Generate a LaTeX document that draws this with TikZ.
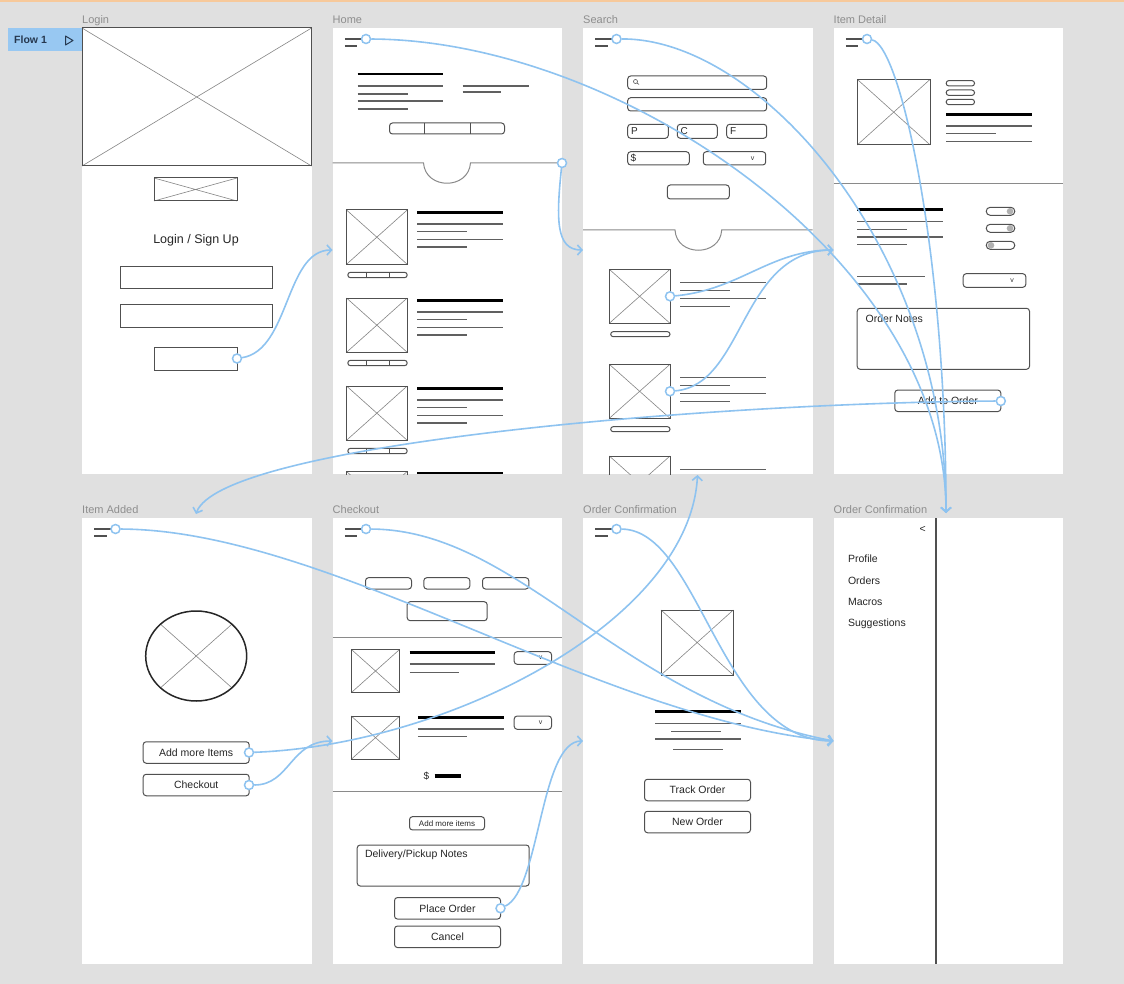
\documentclass[tikz,border=0pt]{standalone}
\usepackage{fontspec}
\setmainfont{Liberation Sans}
\usetikzlibrary{positioning, arrows.meta}

\definecolor{bggrey}{HTML}{E0E0E0}
\definecolor{topline}{HTML}{F7C99B}
\definecolor{tagblue}{HTML}{98C8F2}
\definecolor{tagtext}{HTML}{26384F}
\definecolor{flowblue}{HTML}{8EC3F0}
\definecolor{wiregrey}{HTML}{505050}
\definecolor{txtgrey}{HTML}{606060}
\definecolor{xgrey}{HTML}{858585}
\definecolor{titlegrey}{HTML}{8E8E8E}
\definecolor{sepgrey}{HTML}{8A8A8A}
\definecolor{knobgrey}{HTML}{B0B0B0}

% image placeholder with a cross
\newcommand{\phimg}[4]{\draw[xline] (#1,#2) -- (#3,#4) (#1,#4) -- (#3,#2); \draw[wire] (#1,#2) rectangle (#3,#4);}
% hamburger icon, its top bar ends in a flow start
\newcommand{\burger}[1]{\draw[wire, line width=1.3pt] (12.3,11) -- (29,11) (12.3,18) -- (24.7,18); \node[dot] (#1) at (33.5,11) {};}

\begin{document}
\begin{tikzpicture}[x=1pt, y=-1pt]
 \tikzstyle{screen} = [fill=white, minimum width=229.5pt, minimum height=446pt, inner sep=0pt, outer sep=0pt, anchor=north west]
 \tikzstyle{title} = [font=\fontsize{11}{13}\selectfont, text=titlegrey, inner sep=0pt, anchor=base west, yshift=4.5pt]
 \tikzstyle{wire} = [draw=wiregrey, line width=1pt]
 \tikzstyle{box} = [draw=wiregrey, line width=1pt, rounded corners=3pt]
 \tikzstyle{xline} = [draw=xgrey, line width=0.6pt]
 \tikzstyle{txt} = [draw=txtgrey, line width=1.2pt]
 \tikzstyle{txtb} = [draw=black, line width=2.6pt]
 \tikzstyle{sepline} = [draw=sepgrey, line width=1pt]
 \tikzstyle{btn} = [draw=wiregrey, line width=1pt, rounded corners=3pt, inner sep=0pt, minimum width=106pt, minimum height=21.5pt, text=black!85, font=\fontsize{10.5}{12}\selectfont]
 \tikzstyle{lbl} = [inner sep=0pt, text=black!85, font=\fontsize{10.5}{12}\selectfont]
 \tikzstyle{tiny} = [inner sep=0pt, text=black!80, font=\fontsize{7}{8}\selectfont]
 \tikzstyle{flow} = [draw=flowblue, line width=1.6pt, -{Straight Barb[length=4.5pt, width=10pt]}]
 \tikzstyle{dot} = [circle, draw=flowblue, fill=white, line width=1.5pt, minimum size=9pt, inner sep=0pt]

 \fill[bggrey] (0,0) rectangle (1124,984);
 \useasboundingbox (0,0) rectangle (1124,984);
 \fill[topline] (0,0) rectangle (1124,2.5);

 % flow tag
 \node[fill=tagblue, minimum width=74pt, minimum height=23pt, inner sep=0pt, anchor=north west] (flowtag) at (8,28) {};
 \node[inner sep=0pt, anchor=west, text=tagtext, font=\bfseries\fontsize{10.5}{12}\selectfont] (flowtxt) at (14,40) {Flow 1};
 \draw[tagtext, line width=1pt, line join=round] (65.5,36) -- (73,40.5) -- (65.5,45) -- cycle;

 % screens
 \node[screen] (login) at (82,28) {};
 \node[screen, right = 21pt of login] (home) {};
 \node[screen, right = 21pt of home] (search) {};
 \node[screen, right = 21pt of search] (detail) {};
 \node[screen, below = 44pt of login] (added) {};
 \node[screen, right = 21pt of added] (checkout) {};
 \node[screen, right = 21pt of checkout] (confirm) {};
 \node[screen, right = 21pt of confirm] (sidemenu) {};

 \node[title] (loginT) at (login.north west) {Login};
 \node[title] (homeT) at (home.north west) {Home};
 \node[title] (searchT) at (search.north west) {Search};
 \node[title] (detailT) at (detail.north west) {Item Detail};
 \node[title] (addedT) at (added.north west) {Item Added};
 \node[title] (checkoutT) at (checkout.north west) {Checkout};
 \node[title] (confirmT) at (confirm.north west) {Order Confirmation};
 \node[title] (sidemenuT) at (sidemenu.north west) {Order Confirmation};

 % Login
 \begin{scope}[shift={(login.north west)}]
  \phimg{0}{0}{229.5}{138}
  \phimg{72}{150}{155}{173}
  \node[lbl, font=\fontsize{12.5}{14}\selectfont] (loginH) at (114,212) {Login / Sign Up};
  \draw[wire] (38,239) rectangle (190,261);
  \draw[wire] (38,276) rectangle (190,299);
  \draw[wire] (72,319) rectangle (155,342);
  \node[dot] (loginGo) at (155,330.5) {};
 \end{scope}

 % Home
 \begin{scope}[shift={(home.north west)}]
  \burger{homeMenu}
  \draw[txtb] (25,46) -- (110,46);
  \draw[txt] (25,58) -- (110,58) (25,66) -- (75,66) (25,73) -- (110,73) (25,81) -- (75,81)
             (130,58) -- (196,58) (130,64) -- (168,64);
  \draw[box] (57,95) rectangle (172,106);
  \draw[wire] (92,95) -- (92,106) (138,95) -- (138,106);
  \draw[sepline] (0,135) -- (91,135) .. controls (93,162) and (136,162) .. (138,135) -- (229.5,135);
  \node[dot] (homeSep) at (229.5,135) {};
  \foreach \y in {0,88,176} {
   \phimg{14}{182+\y}{74.7}{236.3+\y}
   \draw[txtb] (84.7,184.3+\y) -- (170.7,184.3+\y);
   \draw[txt] (84.7,196+\y) -- (170.7,196+\y) (84.7,203.7+\y) -- (134.7,203.7+\y)
              (84.7,211.3+\y) -- (170.7,211.3+\y) (84.7,219+\y) -- (134.7,219+\y);
   \draw[box, rounded corners=2.7pt] (15.3,244.3+\y) rectangle (74.7,249.7+\y);
   \draw[wire] (33.7,244.3+\y) -- (33.7,249.7+\y) (57.3,244.3+\y) -- (57.3,249.7+\y);
  }
  \begin{scope}
   \clip (0,0) rectangle (229.5,446);
   \phimg{14}{443.5}{74.7}{497}
   \draw[txtb] (84.7,445) -- (170.7,445);
  \end{scope}
  \coordinate (homeIn) at (0,222);
 \end{scope}

 % Search
 \begin{scope}[shift={(search.north west)}]
  \burger{searchMenu}
  \draw[box] (44.7,48) rectangle (183.7,61.3);
  \draw[wire, line width=0.6pt] (52.5,53.5) circle (2pt) (54,55) -- (56,56.5);
  \draw[box] (44.7,69.7) rectangle (183.7,83);
  \draw[box] (44.7,96.3) rectangle (85.3,110.3);
  \draw[box] (94.3,96.3) rectangle (134.3,110.3);
  \draw[box] (143.7,96.3) rectangle (183.7,110.3);
  \node[lbl, anchor=west, font=\fontsize{10}{12}\selectfont] (letterP) at (48,103.3) {P};
  \node[lbl, anchor=west, font=\fontsize{10}{12}\selectfont] (letterC) at (97.5,103.3) {C};
  \node[lbl, anchor=west, font=\fontsize{10}{12}\selectfont] (letterF) at (147,103.3) {F};
  \draw[box] (44.7,123.7) rectangle (106.3,137);
  \node[lbl, anchor=west, font=\fontsize{10}{12}\selectfont] (price) at (47.5,130.3) {\$};
  \draw[box] (120.3,123.7) rectangle (182.7,137);
  \node[tiny] (sortV) at (169.7,130.3) {v};
  \draw[box] (84.3,157) rectangle (146.3,171);
  \draw[sepline] (0,202) -- (92,202) .. controls (93.5,229) and (137.2,229) .. (138.7,202) -- (229.5,202);
  \begin{scope}
   \clip (0,0) rectangle (229.5,446);
   \foreach \y in {0,95,186.7} {
    \phimg{26.3}{241.3+\y}{87}{295.3+\y}
    \draw[txt] (97,254.7+\y) -- (182.7,254.7+\y) (97,262.7+\y) -- (147,262.7+\y)
               (97,270.7+\y) -- (182.7,270.7+\y) (97,278.7+\y) -- (147,278.7+\y);
    \draw[box, rounded corners=2.5pt] (27.7,303.7+\y) rectangle (87,308.7+\y);
   }
  \end{scope}
  \node[dot] (searchA) at (87,268.3) {};
  \node[dot] (searchB) at (87,363.3) {};
  \coordinate (searchIn) at (0,222);
  \coordinate (searchBot) at (114.5,447);
 \end{scope}

 % Item Detail
 \begin{scope}[shift={(detail.north west)}]
  \burger{detailMenu}
  \phimg{23.7}{51.3}{96.7}{117}
  \foreach \y in {55.3,64.7,74}
   \draw[box, rounded corners=2.6pt] (112.7,\y-2.7) rectangle (141,\y+2.7);
  \draw[txtb] (112.7,86.3) -- (198.7,86.3);
  \draw[txt] (112.7,98) -- (198.7,98) (112.7,105.7) -- (162.7,105.7) (112.7,113.7) -- (198.7,113.7);
  \draw[sepline] (0,156) -- (229.5,156);
  \draw[txtb] (23.7,181.3) -- (109.3,181.3);
  \draw[txt] (23.7,193.7) -- (109.3,193.7) (23.7,201.3) -- (73.7,201.3)
             (23.7,209) -- (109.3,209) (23.7,216.7) -- (73.7,216.7);
  \foreach \y/\k in {183.3/176.5, 200.3/176.5, 217.3/157.5} {
   \fill[knobgrey] (\k,\y) circle (3.3pt);
   \draw[box, rounded corners=4pt] (152.7,\y-4) rectangle (181.3,\y+4);
  }
  \draw[txt] (23.7,248.3) -- (91,248.3) (23.7,256) -- (73.7,256);
  \draw[box] (129.7,245.7) rectangle (192.3,259.3);
  \node[tiny] (qtyV) at (178.7,252.5) {v};
  \draw[box] (23.7,280.3) rectangle (196,341.3);
  \node[lbl, anchor=west] (notes) at (32,291) {Order Notes};
  \node[btn] (addOrder) at (114.3,372.8) {Add to Order};
  \node[dot] (detailAdd) at (167.3,373) {};
  \coordinate (detailIn) at (0,222);
 \end{scope}

 % Item Added
 \begin{scope}[shift={(added.north west)}]
  \burger{addedMenu}
  \draw[xline] (114.2,138) +(-35.7,-31.8) -- +(35.7,31.8) +(-35.7,31.8) -- +(35.7,-31.8);
  \draw[draw=black!85, line width=1.5pt] (114.2,138) ellipse (50.5pt and 45pt);
  \node[btn] (moreBtn) at (114.2,234.5) {Add more Items};
  \node[btn] (checkBtn) at (114.2,267) {Checkout};
  \node[dot] (addedMore) at (167,234.5) {};
  \node[dot] (addedCheck) at (167,267) {};
  \coordinate (addedIn) at (114,-4);
 \end{scope}

 % Checkout
 \begin{scope}[shift={(checkout.north west)}]
  \burger{checkMenu}
  \draw[box] (33,59.7) rectangle (79,71);
  \draw[box] (91.3,59.7) rectangle (137.3,71);
  \draw[box] (150,59.7) rectangle (196.3,71);
  \draw[box] (74.7,83.7) rectangle (154.7,102.7);
  \draw[sepline] (0,119) -- (229.5,119);
  \phimg{18.7}{131.3}{67.3}{174.7}
  \draw[txtb] (77,134.7) -- (162.3,134.7);
  \draw[txt] (77,146) -- (162.3,146) (77,154.3) -- (126.3,154.3);
  \draw[box] (181.7,133.7) rectangle (219,146.3);
  \node[tiny] (cartV1) at (208,140) {v};
  \phimg{18.7}{198}{67.3}{241.3}
  \draw[txtb] (85.3,199.3) -- (171.3,199.3);
  \draw[txt] (85.3,211) -- (171.3,211) (85.3,218.7) -- (134.7,218.7);
  \draw[box] (181.7,198) rectangle (219,211.3);
  \node[tiny] (cartV2) at (208,204.7) {v};
  \node[lbl, font=\fontsize{10}{12}\selectfont] (total) at (94,258) {\$};
  \draw[black, line width=3.5pt] (102,258) -- (128,258);
  \draw[sepline] (0,273.7) -- (229.5,273.7);
  \node[btn, minimum width=75pt, minimum height=13.3pt, font=\fontsize{8}{9}\selectfont] (moreSmall) at (114.5,305.3) {Add more items};
  \draw[box] (24.7,327) rectangle (196.7,368);
  \node[lbl, anchor=west] (delivery) at (32.3,337) {Delivery/Pickup Notes};
  \node[btn] (placeBtn) at (115,390.3) {Place Order};
  \node[btn] (cancelBtn) at (115,418.8) {Cancel};
  \node[dot] (checkPlace) at (168,390.3) {};
  \coordinate (checkoutIn) at (0,223);
 \end{scope}

 % Order Confirmation
 \begin{scope}[shift={(confirm.north west)}]
  \burger{confMenu}
  \phimg{78}{92}{150.3}{157}
  \draw[txtb] (72.3,193.7) -- (158.3,193.7);
  \draw[txt] (72.3,205.7) -- (158.3,205.7) (88,213.3) -- (137.7,213.3)
             (72.3,221) -- (158.3,221) (90,231.3) -- (139.7,231.3);
  \node[btn] (trackBtn) at (114.5,272) {Track Order};
  \node[btn] (newBtn) at (114.5,304) {New Order};
  \coordinate (confIn) at (0,223);
 \end{scope}

 % side menu
 \begin{scope}[shift={(sidemenu.north west)}]
  \draw[draw=wiregrey, line width=1.8pt] (102.7,0) -- (102.7,446);
  \node[lbl] (back) at (89.3,11) {<};
  \foreach \t [count=\i] in {Profile, Orders, Macros, Suggestions}
   \node[lbl, anchor=west] (menu\i) at (14.3,{41+21.5*(\i-1)}) {\t};
  \coordinate (menuIn) at (112.5,-5);
  \coordinate (menuLeft) at (0,223);
 \end{scope}

 % flows
 \draw[flow] (loginGo) .. controls (290,350) and (285,250) .. (homeIn);
 \draw[flow] (homeSep) .. controls (556,220) and (556,250) .. (searchIn);
 \draw[flow] (homeMenu) .. controls (620,40) and (946,260) .. (menuIn);
 \draw[flow] (searchMenu) .. controls (760,38) and (946,250) .. (menuIn);
 \draw[flow] (detailMenu) .. controls (900,45) and (946,250) .. (menuIn);
 \draw[flow] (searchA) .. controls (740,290) and (770,250) .. (detailIn);
 \draw[flow] (searchB) .. controls (745,385) and (740,250) .. (detailIn);
 \draw[flow] (detailAdd) .. controls (700,403) and (220,445) .. (addedIn);
 \draw[flow] (addedMenu) .. controls (330,530) and (600,720) .. (menuLeft);
 \draw[flow] (checkMenu) .. controls (520,530) and (620,700) .. (menuLeft);
 \draw[flow] (confMenu) .. controls (700,530) and (720,741) .. (menuLeft);
 \draw[flow] (addedMore) .. controls (450,745) and (690,620) .. (searchBot);
 \draw[flow] (addedCheck) .. controls (290,785) and (290,741) .. (checkoutIn);
 \draw[flow] (checkPlace) .. controls (540,890) and (540,741) .. (confIn);
\end{tikzpicture}
\end{document}
